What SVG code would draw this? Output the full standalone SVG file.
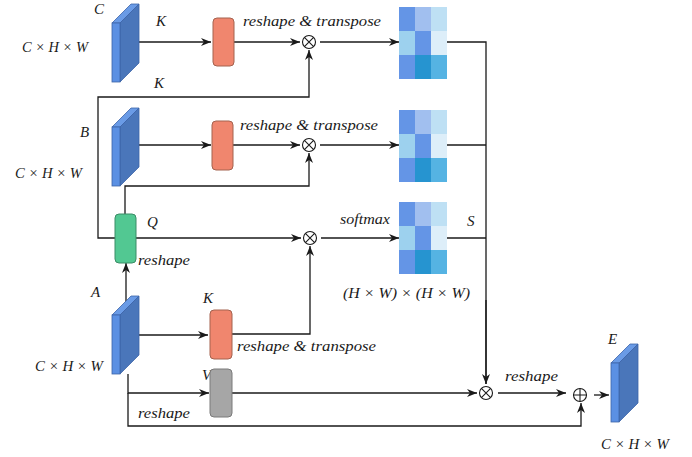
<svg xmlns="http://www.w3.org/2000/svg" width="692" height="457" viewBox="0 0 692 457">
<defs>
<marker id="ah" markerWidth="10" markerHeight="8" refX="10" refY="4" orient="auto" markerUnits="userSpaceOnUse">
<path d="M0,0 L10,4 L0,8 L3,4 z" fill="#1a1a1a"/>
</marker>
<g id="blk">
<polygon points="0,0 19,-19 27,-19 8,0" fill="#6A9BE6" stroke="#3D64A8" stroke-width="0.8"/>
<polygon points="8,0 27,-19 27,40 8,59" fill="#4A76BA" stroke="#3D64A8" stroke-width="0.8"/>
<rect x="0" y="0" width="8" height="59" fill="#5B90E3" stroke="#3D64A8" stroke-width="0.8"/>
</g>
<g id="mat">
<rect x="0" y="0" width="16" height="24" fill="#6495E6"/>
<rect x="16" y="0" width="16" height="24" fill="#A1BFEF"/>
<rect x="32" y="0" width="16" height="24" fill="#BEE0F4"/>
<rect x="0" y="24" width="16" height="24" fill="#9DD1EE"/>
<rect x="16" y="24" width="16" height="24" fill="#6495E6"/>
<rect x="32" y="24" width="16" height="24" fill="#DDEEF9"/>
<rect x="0" y="48" width="16" height="24" fill="#6495E6"/>
<rect x="16" y="48" width="16" height="24" fill="#2694D0"/>
<rect x="32" y="48" width="16" height="24" fill="#55B3E3"/>
</g>
<g id="otimes">
<circle cx="0" cy="0" r="6.5" fill="#fff" stroke="#1a1a1a" stroke-width="1.1"/>
<path d="M-4.6,-4.6 L4.6,4.6 M-4.6,4.6 L4.6,-4.6" stroke="#1a1a1a" stroke-width="1.1"/>
</g>
</defs>
<style>
.ln{fill:none;stroke:#1a1a1a;stroke-width:1.3}
.ar{marker-end:url(#ah)}
.t{font-family:"Liberation Serif","DejaVu Serif",serif;font-style:italic;font-size:15px;fill:#1a1a1a}
.dim{font-family:"Liberation Serif","DejaVu Serif",serif;font-style:italic;font-size:15px;fill:#1a1a1a}
.or{fill:#F0866E;stroke:#A4624F;stroke-width:1}
.gr{fill:#52C892;stroke:#3B8C66;stroke-width:1}
.gy{fill:#A6A6A6;stroke:#7A7A7A;stroke-width:1}
</style>

<g id="connectors">
<!-- row 1 -->
<line class="ln ar" x1="131" y1="42" x2="211" y2="42"/>
<line class="ln ar" x1="234" y1="42" x2="300" y2="42"/>
<line class="ln ar" x1="320" y1="42" x2="399" y2="42"/>
<polyline class="ln ar" points="115,238 98,238 98,97 309,97 309,50"/>
<!-- row 2 -->
<line class="ln ar" x1="131" y1="145" x2="211" y2="145"/>
<line class="ln ar" x1="233" y1="145" x2="300" y2="145"/>
<line class="ln ar" x1="320" y1="145" x2="399" y2="145"/>
<polyline class="ln ar" points="125,214 125,186 309,186 309,153"/>
<!-- row 3 -->
<line class="ln ar" x1="136" y1="238" x2="301" y2="238"/>
<line class="ln ar" x1="321" y1="238" x2="399" y2="238"/>
<polyline class="ln ar" points="232,334 310,334 310,246"/>
<!-- A -->
<line class="ln ar" x1="126" y1="302" x2="126" y2="263"/>
<line class="ln ar" x1="131" y1="335" x2="208" y2="335"/>
<polyline class="ln ar" points="128,374 128,393 209,393"/>
<line class="ln ar" x1="232" y1="393" x2="477" y2="393"/>
<polyline class="ln ar" points="128,393 128,426 581,426 581,403"/>
<!-- right collector -->
<polyline class="ln" points="447,42 486,42 486,384"/>
<line class="ln ar" x1="486" y1="300" x2="486" y2="384"/>
<line class="ln" x1="447" y1="145" x2="486" y2="145"/>
<line class="ln" x1="447" y1="238" x2="486" y2="238"/>
<line class="ln ar" x1="498" y1="393" x2="566" y2="393"/>
<line class="ln ar" x1="594" y1="395" x2="609" y2="395"/>
</g>

<g id="nodeC">
<use href="#blk" x="112" y="23"/>
<text class="t" x="94" y="14">C</text>
<text class="dim" x="22" y="52" textLength="66" lengthAdjust="spacingAndGlyphs">C × H × W</text>
<text class="t" x="156" y="26">K</text>
<text class="t" x="154" y="88">K</text>
</g>
<g id="nodeB">
<use href="#blk" x="112" y="127"/>
<text class="t" x="80" y="137">B</text>
<text class="dim" x="15" y="178" textLength="67" lengthAdjust="spacingAndGlyphs">C × H × W</text>
</g>
<g id="nodeA">
<use href="#blk" x="112" y="315"/>
<text class="t" x="91" y="297">A</text>
<text class="dim" x="35" y="371" textLength="68" lengthAdjust="spacingAndGlyphs">C × H × W</text>
</g>
<g id="nodeE">
<use href="#blk" x="611" y="363"/>
<text class="t" x="608" y="344">E</text>
<text class="dim" x="601" y="449" textLength="68" lengthAdjust="spacingAndGlyphs">C × H × W</text>
</g>

<g id="conv1">
<rect class="or" x="213" y="18" width="21" height="48" rx="4"/>
<text class="t" x="243" y="26" textLength="138" lengthAdjust="spacingAndGlyphs">reshape &amp; transpose</text>
</g>
<g id="conv2">
<rect class="or" x="212" y="121" width="21" height="49" rx="4"/>
<text class="t" x="240" y="130" textLength="138" lengthAdjust="spacingAndGlyphs">reshape &amp; transpose</text>
</g>
<g id="convQ">
<rect class="gr" x="115" y="214" width="21" height="49" rx="4"/>
<text class="t" x="147" y="227">Q</text>
<text class="t" x="138" y="265" textLength="52" lengthAdjust="spacingAndGlyphs">reshape</text>
</g>
<g id="convK">
<text class="t" x="203" y="303">K</text>
<rect class="or" x="210" y="310" width="22" height="49" rx="4"/>
<text class="t" x="237" y="351" textLength="139" lengthAdjust="spacingAndGlyphs">reshape &amp; transpose</text>
</g>
<g id="convV">
<text class="t" x="202" y="380">V</text>
<rect class="gy" x="210" y="369" width="22" height="48" rx="4"/>
<text class="t" x="138" y="418" textLength="52" lengthAdjust="spacingAndGlyphs">reshape</text>
</g>

<g id="mul1"><use href="#otimes" x="309" y="42"/></g>
<g id="mul2"><use href="#otimes" x="309" y="145"/></g>
<g id="mul3"><use href="#otimes" x="310" y="238"/></g>
<g id="mul4"><use href="#otimes" x="486" y="393"/></g>
<g id="add">
<circle cx="580" cy="395" r="6.5" fill="#fff" stroke="#1a1a1a" stroke-width="1.1"/>
<path d="M573.5,395 L586.5,395 M580,388.5 L580,401.5" stroke="#1a1a1a" stroke-width="1.1"/>
<text class="t" x="505" y="381" textLength="53" lengthAdjust="spacingAndGlyphs">reshape</text>
</g>

<g id="att1"><use href="#mat" x="399" y="7"/></g>
<g id="att2"><use href="#mat" x="399" y="110"/></g>
<g id="att3">
<use href="#mat" x="399" y="202"/>
<text class="t" x="340" y="224" textLength="50" lengthAdjust="spacingAndGlyphs">softmax</text>
<text class="t" x="467" y="226">S</text>
<text class="dim" x="343" y="298" textLength="127" lengthAdjust="spacingAndGlyphs">(H × W) × (H × W)</text>
</g>
</svg>
